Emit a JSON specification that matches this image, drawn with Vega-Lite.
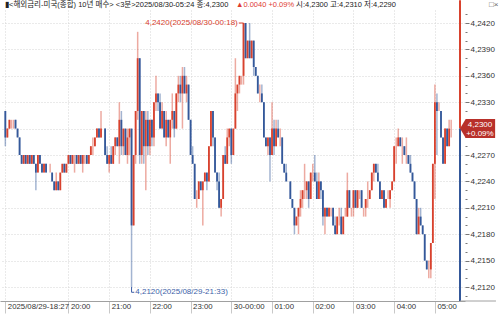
{
  "$schema": "https://vega.github.io/schema/vega-lite/v6.json",
  "width": 465,
  "height": 291,
  "autosize": {"type": "none"},
  "padding": {"left": 0, "top": 10, "right": 35, "bottom": 13},
  "background": "white",
  "config": {
    "view": {"stroke": null},
    "font": "Liberation Sans, Noto Sans CJK KR",
    "text": {"font": "Liberation Sans, Noto Sans CJK KR", "fontSize": 8}
  },
  "datasets": {
    "bars": [
      {"t":"2025-08-29T18:27","o":4.232,"h":4.232,"l":4.228,"c":4.229},
      {"t":"2025-08-29T18:30","o":4.229,"h":4.230,"l":4.229,"c":4.230},
      {"t":"2025-08-29T18:33","o":4.230,"h":4.231,"l":4.230,"c":4.231},
      {"t":"2025-08-29T18:36","o":4.231,"h":4.231,"l":4.230,"c":4.231},
      {"t":"2025-08-29T18:39","o":4.231,"h":4.231,"l":4.230,"c":4.231},
      {"t":"2025-08-29T18:42","o":4.231,"h":4.231,"l":4.230,"c":4.230},
      {"t":"2025-08-29T18:45","o":4.230,"h":4.230,"l":4.229,"c":4.229},
      {"t":"2025-08-29T18:48","o":4.229,"h":4.229,"l":4.227,"c":4.227},
      {"t":"2025-08-29T18:51","o":4.227,"h":4.227,"l":4.226,"c":4.226},
      {"t":"2025-08-29T18:54","o":4.226,"h":4.227,"l":4.226,"c":4.227},
      {"t":"2025-08-29T18:57","o":4.227,"h":4.227,"l":4.226,"c":4.226},
      {"t":"2025-08-29T19:00","o":4.226,"h":4.227,"l":4.226,"c":4.227},
      {"t":"2025-08-29T19:03","o":4.227,"h":4.227,"l":4.226,"c":4.226},
      {"t":"2025-08-29T19:06","o":4.226,"h":4.227,"l":4.226,"c":4.227},
      {"t":"2025-08-29T19:09","o":4.227,"h":4.227,"l":4.226,"c":4.226},
      {"t":"2025-08-29T19:12","o":4.226,"h":4.226,"l":4.223,"c":4.225},
      {"t":"2025-08-29T19:15","o":4.225,"h":4.227,"l":4.225,"c":4.227},
      {"t":"2025-08-29T19:18","o":4.227,"h":4.227,"l":4.226,"c":4.226},
      {"t":"2025-08-29T19:21","o":4.226,"h":4.226,"l":4.225,"c":4.225},
      {"t":"2025-08-29T19:24","o":4.225,"h":4.226,"l":4.225,"c":4.226},
      {"t":"2025-08-29T19:27","o":4.226,"h":4.226,"l":4.225,"c":4.225},
      {"t":"2025-08-29T19:30","o":4.225,"h":4.225,"l":4.225,"c":4.225},
      {"t":"2025-08-29T19:33","o":4.225,"h":4.226,"l":4.225,"c":4.225},
      {"t":"2025-08-29T19:36","o":4.225,"h":4.225,"l":4.224,"c":4.224},
      {"t":"2025-08-29T19:39","o":4.224,"h":4.224,"l":4.223,"c":4.223},
      {"t":"2025-08-29T19:42","o":4.223,"h":4.225,"l":4.223,"c":4.224},
      {"t":"2025-08-29T19:45","o":4.224,"h":4.224,"l":4.223,"c":4.223},
      {"t":"2025-08-29T19:48","o":4.223,"h":4.225,"l":4.223,"c":4.225},
      {"t":"2025-08-29T19:51","o":4.225,"h":4.226,"l":4.225,"c":4.226},
      {"t":"2025-08-29T19:54","o":4.226,"h":4.226,"l":4.225,"c":4.225},
      {"t":"2025-08-29T19:57","o":4.225,"h":4.226,"l":4.225,"c":4.226},
      {"t":"2025-08-29T20:00","o":4.226,"h":4.227,"l":4.226,"c":4.227},
      {"t":"2025-08-29T20:03","o":4.227,"h":4.227,"l":4.226,"c":4.226},
      {"t":"2025-08-29T20:06","o":4.226,"h":4.227,"l":4.226,"c":4.227},
      {"t":"2025-08-29T20:09","o":4.227,"h":4.227,"l":4.225,"c":4.227},
      {"t":"2025-08-29T20:12","o":4.227,"h":4.227,"l":4.226,"c":4.226},
      {"t":"2025-08-29T20:15","o":4.226,"h":4.227,"l":4.226,"c":4.227},
      {"t":"2025-08-29T20:18","o":4.227,"h":4.227,"l":4.226,"c":4.226},
      {"t":"2025-08-29T20:21","o":4.226,"h":4.227,"l":4.225,"c":4.227},
      {"t":"2025-08-29T20:24","o":4.227,"h":4.227,"l":4.226,"c":4.227},
      {"t":"2025-08-29T20:27","o":4.227,"h":4.227,"l":4.226,"c":4.226},
      {"t":"2025-08-29T20:30","o":4.226,"h":4.227,"l":4.226,"c":4.227},
      {"t":"2025-08-29T20:33","o":4.227,"h":4.228,"l":4.227,"c":4.228},
      {"t":"2025-08-29T20:36","o":4.228,"h":4.229,"l":4.227,"c":4.228},
      {"t":"2025-08-29T20:39","o":4.228,"h":4.229,"l":4.228,"c":4.229},
      {"t":"2025-08-29T20:42","o":4.229,"h":4.230,"l":4.229,"c":4.230},
      {"t":"2025-08-29T20:45","o":4.230,"h":4.230,"l":4.229,"c":4.229},
      {"t":"2025-08-29T20:48","o":4.229,"h":4.232,"l":4.229,"c":4.230},
      {"t":"2025-08-29T20:51","o":4.230,"h":4.230,"l":4.230,"c":4.230},
      {"t":"2025-08-29T20:54","o":4.230,"h":4.230,"l":4.227,"c":4.227},
      {"t":"2025-08-29T20:57","o":4.227,"h":4.228,"l":4.226,"c":4.226},
      {"t":"2025-08-29T21:00","o":4.226,"h":4.227,"l":4.225,"c":4.227},
      {"t":"2025-08-29T21:03","o":4.227,"h":4.228,"l":4.226,"c":4.226},
      {"t":"2025-08-29T21:06","o":4.226,"h":4.228,"l":4.226,"c":4.228},
      {"t":"2025-08-29T21:09","o":4.228,"h":4.229,"l":4.227,"c":4.229},
      {"t":"2025-08-29T21:12","o":4.229,"h":4.229,"l":4.228,"c":4.228},
      {"t":"2025-08-29T21:15","o":4.228,"h":4.233,"l":4.226,"c":4.231},
      {"t":"2025-08-29T21:18","o":4.231,"h":4.232,"l":4.227,"c":4.228},
      {"t":"2025-08-29T21:21","o":4.228,"h":4.230,"l":4.227,"c":4.230},
      {"t":"2025-08-29T21:24","o":4.230,"h":4.230,"l":4.227,"c":4.227},
      {"t":"2025-08-29T21:27","o":4.227,"h":4.230,"l":4.226,"c":4.229},
      {"t":"2025-08-29T21:30","o":4.229,"h":4.230,"l":4.227,"c":4.230},
      {"t":"2025-08-29T21:33","o":4.230,"h":4.230,"l":4.212,"c":4.219},
      {"t":"2025-08-29T21:36","o":4.219,"h":4.227,"l":4.219,"c":4.227},
      {"t":"2025-08-29T21:39","o":4.227,"h":4.232,"l":4.226,"c":4.232},
      {"t":"2025-08-29T21:42","o":4.232,"h":4.241,"l":4.231,"c":4.238},
      {"t":"2025-08-29T21:45","o":4.238,"h":4.238,"l":4.226,"c":4.227},
      {"t":"2025-08-29T21:48","o":4.227,"h":4.232,"l":4.226,"c":4.232},
      {"t":"2025-08-29T21:51","o":4.232,"h":4.232,"l":4.226,"c":4.228},
      {"t":"2025-08-29T21:54","o":4.228,"h":4.232,"l":4.223,"c":4.231},
      {"t":"2025-08-29T21:57","o":4.231,"h":4.232,"l":4.227,"c":4.228},
      {"t":"2025-08-29T22:00","o":4.228,"h":4.231,"l":4.227,"c":4.231},
      {"t":"2025-08-29T22:03","o":4.231,"h":4.231,"l":4.228,"c":4.229},
      {"t":"2025-08-29T22:06","o":4.229,"h":4.233,"l":4.228,"c":4.233},
      {"t":"2025-08-29T22:09","o":4.233,"h":4.236,"l":4.232,"c":4.234},
      {"t":"2025-08-29T22:12","o":4.234,"h":4.234,"l":4.232,"c":4.233},
      {"t":"2025-08-29T22:15","o":4.233,"h":4.234,"l":4.230,"c":4.230},
      {"t":"2025-08-29T22:18","o":4.230,"h":4.233,"l":4.230,"c":4.232},
      {"t":"2025-08-29T22:21","o":4.232,"h":4.232,"l":4.229,"c":4.229},
      {"t":"2025-08-29T22:24","o":4.229,"h":4.232,"l":4.228,"c":4.231},
      {"t":"2025-08-29T22:27","o":4.231,"h":4.231,"l":4.229,"c":4.229},
      {"t":"2025-08-29T22:30","o":4.229,"h":4.231,"l":4.226,"c":4.231},
      {"t":"2025-08-29T22:33","o":4.231,"h":4.234,"l":4.230,"c":4.232},
      {"t":"2025-08-29T22:36","o":4.232,"h":4.232,"l":4.229,"c":4.230},
      {"t":"2025-08-29T22:39","o":4.230,"h":4.234,"l":4.230,"c":4.234},
      {"t":"2025-08-29T22:42","o":4.234,"h":4.236,"l":4.233,"c":4.235},
      {"t":"2025-08-29T22:45","o":4.235,"h":4.236,"l":4.233,"c":4.234},
      {"t":"2025-08-29T22:48","o":4.234,"h":4.237,"l":4.230,"c":4.236},
      {"t":"2025-08-29T22:51","o":4.236,"h":4.237,"l":4.234,"c":4.234},
      {"t":"2025-08-29T22:54","o":4.234,"h":4.236,"l":4.233,"c":4.235},
      {"t":"2025-08-29T22:57","o":4.235,"h":4.235,"l":4.231,"c":4.231},
      {"t":"2025-08-29T23:00","o":4.231,"h":4.231,"l":4.227,"c":4.227},
      {"t":"2025-08-29T23:03","o":4.227,"h":4.228,"l":4.226,"c":4.226},
      {"t":"2025-08-29T23:06","o":4.226,"h":4.226,"l":4.222,"c":4.222},
      {"t":"2025-08-29T23:09","o":4.222,"h":4.223,"l":4.221,"c":4.222},
      {"t":"2025-08-29T23:12","o":4.222,"h":4.224,"l":4.222,"c":4.224},
      {"t":"2025-08-29T23:15","o":4.224,"h":4.224,"l":4.223,"c":4.223},
      {"t":"2025-08-29T23:18","o":4.223,"h":4.224,"l":4.219,"c":4.224},
      {"t":"2025-08-29T23:21","o":4.224,"h":4.225,"l":4.224,"c":4.225},
      {"t":"2025-08-29T23:24","o":4.225,"h":4.225,"l":4.223,"c":4.224},
      {"t":"2025-08-29T23:27","o":4.224,"h":4.228,"l":4.224,"c":4.228},
      {"t":"2025-08-29T23:30","o":4.228,"h":4.232,"l":4.228,"c":4.232},
      {"t":"2025-08-29T23:33","o":4.232,"h":4.232,"l":4.228,"c":4.229},
      {"t":"2025-08-29T23:36","o":4.229,"h":4.229,"l":4.225,"c":4.225},
      {"t":"2025-08-29T23:39","o":4.225,"h":4.225,"l":4.223,"c":4.224},
      {"t":"2025-08-29T23:42","o":4.224,"h":4.225,"l":4.221,"c":4.221},
      {"t":"2025-08-29T23:45","o":4.221,"h":4.222,"l":4.220,"c":4.222},
      {"t":"2025-08-29T23:48","o":4.222,"h":4.227,"l":4.222,"c":4.227},
      {"t":"2025-08-29T23:51","o":4.227,"h":4.228,"l":4.226,"c":4.226},
      {"t":"2025-08-29T23:54","o":4.226,"h":4.230,"l":4.226,"c":4.229},
      {"t":"2025-08-29T23:57","o":4.229,"h":4.230,"l":4.228,"c":4.230},
      {"t":"2025-08-30T00:00","o":4.230,"h":4.230,"l":4.226,"c":4.227},
      {"t":"2025-08-30T00:03","o":4.227,"h":4.230,"l":4.227,"c":4.230},
      {"t":"2025-08-30T00:06","o":4.230,"h":4.238,"l":4.230,"c":4.234},
      {"t":"2025-08-30T00:09","o":4.234,"h":4.235,"l":4.232,"c":4.235},
      {"t":"2025-08-30T00:12","o":4.235,"h":4.236,"l":4.234,"c":4.236},
      {"t":"2025-08-30T00:15","o":4.236,"h":4.236,"l":4.235,"c":4.236},
      {"t":"2025-08-30T00:18","o":4.236,"h":4.242,"l":4.235,"c":4.242},
      {"t":"2025-08-30T00:21","o":4.242,"h":4.242,"l":4.238,"c":4.238},
      {"t":"2025-08-30T00:24","o":4.238,"h":4.240,"l":4.238,"c":4.240},
      {"t":"2025-08-30T00:27","o":4.240,"h":4.242,"l":4.238,"c":4.238},
      {"t":"2025-08-30T00:30","o":4.238,"h":4.240,"l":4.238,"c":4.240},
      {"t":"2025-08-30T00:33","o":4.240,"h":4.240,"l":4.236,"c":4.237},
      {"t":"2025-08-30T00:36","o":4.237,"h":4.237,"l":4.236,"c":4.236},
      {"t":"2025-08-30T00:39","o":4.236,"h":4.236,"l":4.234,"c":4.234},
      {"t":"2025-08-30T00:42","o":4.234,"h":4.235,"l":4.233,"c":4.234},
      {"t":"2025-08-30T00:45","o":4.234,"h":4.235,"l":4.233,"c":4.233},
      {"t":"2025-08-30T00:48","o":4.233,"h":4.233,"l":4.229,"c":4.229},
      {"t":"2025-08-30T00:51","o":4.229,"h":4.229,"l":4.228,"c":4.228},
      {"t":"2025-08-30T00:54","o":4.228,"h":4.229,"l":4.227,"c":4.229},
      {"t":"2025-08-30T00:57","o":4.229,"h":4.229,"l":4.224,"c":4.227},
      {"t":"2025-08-30T01:00","o":4.227,"h":4.233,"l":4.227,"c":4.230},
      {"t":"2025-08-30T01:03","o":4.230,"h":4.231,"l":4.227,"c":4.228},
      {"t":"2025-08-30T01:06","o":4.228,"h":4.231,"l":4.228,"c":4.230},
      {"t":"2025-08-30T01:09","o":4.230,"h":4.231,"l":4.229,"c":4.229},
      {"t":"2025-08-30T01:12","o":4.229,"h":4.230,"l":4.228,"c":4.229},
      {"t":"2025-08-30T01:15","o":4.229,"h":4.229,"l":4.226,"c":4.226},
      {"t":"2025-08-30T01:18","o":4.226,"h":4.226,"l":4.225,"c":4.225},
      {"t":"2025-08-30T01:21","o":4.225,"h":4.226,"l":4.224,"c":4.224},
      {"t":"2025-08-30T01:24","o":4.224,"h":4.224,"l":4.224,"c":4.224},
      {"t":"2025-08-30T01:27","o":4.224,"h":4.224,"l":4.222,"c":4.222},
      {"t":"2025-08-30T01:30","o":4.222,"h":4.222,"l":4.221,"c":4.221},
      {"t":"2025-08-30T01:33","o":4.221,"h":4.221,"l":4.218,"c":4.219},
      {"t":"2025-08-30T01:36","o":4.219,"h":4.220,"l":4.219,"c":4.220},
      {"t":"2025-08-30T01:39","o":4.220,"h":4.221,"l":4.218,"c":4.221},
      {"t":"2025-08-30T01:42","o":4.221,"h":4.223,"l":4.220,"c":4.222},
      {"t":"2025-08-30T01:45","o":4.222,"h":4.223,"l":4.221,"c":4.223},
      {"t":"2025-08-30T01:48","o":4.223,"h":4.226,"l":4.222,"c":4.223},
      {"t":"2025-08-30T01:51","o":4.223,"h":4.224,"l":4.222,"c":4.224},
      {"t":"2025-08-30T01:54","o":4.224,"h":4.224,"l":4.221,"c":4.222},
      {"t":"2025-08-30T01:57","o":4.222,"h":4.225,"l":4.222,"c":4.225},
      {"t":"2025-08-30T02:00","o":4.225,"h":4.226,"l":4.224,"c":4.225},
      {"t":"2025-08-30T02:03","o":4.225,"h":4.227,"l":4.224,"c":4.224},
      {"t":"2025-08-30T02:06","o":4.224,"h":4.225,"l":4.222,"c":4.222},
      {"t":"2025-08-30T02:09","o":4.222,"h":4.225,"l":4.222,"c":4.224},
      {"t":"2025-08-30T02:12","o":4.224,"h":4.224,"l":4.222,"c":4.223},
      {"t":"2025-08-30T02:15","o":4.223,"h":4.223,"l":4.219,"c":4.220},
      {"t":"2025-08-30T02:18","o":4.220,"h":4.221,"l":4.218,"c":4.221},
      {"t":"2025-08-30T02:21","o":4.221,"h":4.221,"l":4.220,"c":4.220},
      {"t":"2025-08-30T02:24","o":4.220,"h":4.221,"l":4.220,"c":4.221},
      {"t":"2025-08-30T02:27","o":4.221,"h":4.221,"l":4.220,"c":4.221},
      {"t":"2025-08-30T02:30","o":4.221,"h":4.221,"l":4.219,"c":4.219},
      {"t":"2025-08-30T02:33","o":4.219,"h":4.220,"l":4.218,"c":4.218},
      {"t":"2025-08-30T02:36","o":4.218,"h":4.220,"l":4.218,"c":4.220},
      {"t":"2025-08-30T02:39","o":4.220,"h":4.221,"l":4.219,"c":4.220},
      {"t":"2025-08-30T02:42","o":4.220,"h":4.221,"l":4.218,"c":4.218},
      {"t":"2025-08-30T02:45","o":4.218,"h":4.220,"l":4.218,"c":4.220},
      {"t":"2025-08-30T02:48","o":4.220,"h":4.221,"l":4.220,"c":4.220},
      {"t":"2025-08-30T02:51","o":4.220,"h":4.225,"l":4.220,"c":4.223},
      {"t":"2025-08-30T02:54","o":4.223,"h":4.223,"l":4.221,"c":4.221},
      {"t":"2025-08-30T02:57","o":4.221,"h":4.221,"l":4.220,"c":4.221},
      {"t":"2025-08-30T03:00","o":4.221,"h":4.223,"l":4.220,"c":4.223},
      {"t":"2025-08-30T03:03","o":4.223,"h":4.223,"l":4.221,"c":4.221},
      {"t":"2025-08-30T03:06","o":4.221,"h":4.223,"l":4.221,"c":4.223},
      {"t":"2025-08-30T03:09","o":4.223,"h":4.223,"l":4.222,"c":4.223},
      {"t":"2025-08-30T03:12","o":4.223,"h":4.223,"l":4.221,"c":4.221},
      {"t":"2025-08-30T03:15","o":4.221,"h":4.221,"l":4.220,"c":4.221},
      {"t":"2025-08-30T03:18","o":4.221,"h":4.222,"l":4.220,"c":4.222},
      {"t":"2025-08-30T03:21","o":4.222,"h":4.224,"l":4.221,"c":4.222},
      {"t":"2025-08-30T03:24","o":4.222,"h":4.223,"l":4.222,"c":4.223},
      {"t":"2025-08-30T03:27","o":4.223,"h":4.225,"l":4.223,"c":4.225},
      {"t":"2025-08-30T03:30","o":4.225,"h":4.226,"l":4.224,"c":4.226},
      {"t":"2025-08-30T03:33","o":4.226,"h":4.226,"l":4.225,"c":4.225},
      {"t":"2025-08-30T03:36","o":4.225,"h":4.226,"l":4.224,"c":4.224},
      {"t":"2025-08-30T03:39","o":4.224,"h":4.224,"l":4.222,"c":4.222},
      {"t":"2025-08-30T03:42","o":4.222,"h":4.223,"l":4.222,"c":4.223},
      {"t":"2025-08-30T03:45","o":4.223,"h":4.223,"l":4.221,"c":4.221},
      {"t":"2025-08-30T03:48","o":4.221,"h":4.222,"l":4.221,"c":4.222},
      {"t":"2025-08-30T03:51","o":4.222,"h":4.223,"l":4.222,"c":4.222},
      {"t":"2025-08-30T03:54","o":4.222,"h":4.223,"l":4.221,"c":4.223},
      {"t":"2025-08-30T03:57","o":4.223,"h":4.224,"l":4.223,"c":4.224},
      {"t":"2025-08-30T04:00","o":4.224,"h":4.228,"l":4.224,"c":4.228},
      {"t":"2025-08-30T04:03","o":4.228,"h":4.229,"l":4.226,"c":4.228},
      {"t":"2025-08-30T04:06","o":4.228,"h":4.230,"l":4.228,"c":4.229},
      {"t":"2025-08-30T04:09","o":4.229,"h":4.229,"l":4.228,"c":4.228},
      {"t":"2025-08-30T04:12","o":4.228,"h":4.229,"l":4.226,"c":4.228},
      {"t":"2025-08-30T04:15","o":4.228,"h":4.228,"l":4.227,"c":4.227},
      {"t":"2025-08-30T04:18","o":4.227,"h":4.229,"l":4.226,"c":4.227},
      {"t":"2025-08-30T04:21","o":4.227,"h":4.227,"l":4.226,"c":4.226},
      {"t":"2025-08-30T04:24","o":4.226,"h":4.227,"l":4.225,"c":4.225},
      {"t":"2025-08-30T04:27","o":4.225,"h":4.225,"l":4.224,"c":4.224},
      {"t":"2025-08-30T04:30","o":4.224,"h":4.224,"l":4.222,"c":4.222},
      {"t":"2025-08-30T04:33","o":4.222,"h":4.222,"l":4.218,"c":4.218},
      {"t":"2025-08-30T04:36","o":4.218,"h":4.221,"l":4.218,"c":4.220},
      {"t":"2025-08-30T04:39","o":4.220,"h":4.221,"l":4.219,"c":4.219},
      {"t":"2025-08-30T04:42","o":4.219,"h":4.219,"l":4.218,"c":4.218},
      {"t":"2025-08-30T04:45","o":4.218,"h":4.218,"l":4.215,"c":4.215},
      {"t":"2025-08-30T04:48","o":4.215,"h":4.215,"l":4.214,"c":4.214},
      {"t":"2025-08-30T04:51","o":4.214,"h":4.215,"l":4.213,"c":4.214},
      {"t":"2025-08-30T04:54","o":4.214,"h":4.217,"l":4.213,"c":4.217},
      {"t":"2025-08-30T04:57","o":4.217,"h":4.226,"l":4.217,"c":4.226},
      {"t":"2025-08-30T05:00","o":4.226,"h":4.235,"l":4.222,"c":4.233},
      {"t":"2025-08-30T05:03","o":4.233,"h":4.234,"l":4.227,"c":4.232},
      {"t":"2025-08-30T05:06","o":4.232,"h":4.233,"l":4.232,"c":4.232},
      {"t":"2025-08-30T05:09","o":4.232,"h":4.232,"l":4.229,"c":4.229},
      {"t":"2025-08-30T05:12","o":4.229,"h":4.229,"l":4.226,"c":4.226},
      {"t":"2025-08-30T05:15","o":4.226,"h":4.230,"l":4.226,"c":4.230},
      {"t":"2025-08-30T05:18","o":4.230,"h":4.230,"l":4.228,"c":4.228},
      {"t":"2025-08-30T05:21","o":4.228,"h":4.231,"l":4.228,"c":4.230},
      {"t":"2025-08-30T05:24","o":4.230,"h":4.231,"l":4.229,"c":4.230}
    ]
  },
  "layer": [
    {
      "data": {"name": "bars"},
      "mark": {"type": "rule", "strokeWidth": 1.5, "opacity": 0.45},
      "encoding": {
        "x": {
          "field": "t",
          "type": "temporal",
          "scale": {"domain": [
            {"year": 2025, "month": 8, "date": 29, "hours": 18, "minutes": 26, "seconds": 30},
            {"year": 2025, "month": 8, "date": 30, "hours": 5, "minutes": 37}
          ]},
          "axis": {
            "title": null,
            "values": [
              {"year": 2025, "month": 8, "date": 29, "hours": 18, "minutes": 27},
              {"year": 2025, "month": 8, "date": 29, "hours": 20},
              {"year": 2025, "month": 8, "date": 29, "hours": 21},
              {"year": 2025, "month": 8, "date": 29, "hours": 22},
              {"year": 2025, "month": 8, "date": 29, "hours": 23},
              {"year": 2025, "month": 8, "date": 30, "hours": 0},
              {"year": 2025, "month": 8, "date": 30, "hours": 1},
              {"year": 2025, "month": 8, "date": 30, "hours": 2},
              {"year": 2025, "month": 8, "date": 30, "hours": 3},
              {"year": 2025, "month": 8, "date": 30, "hours": 4},
              {"year": 2025, "month": 8, "date": 30, "hours": 5}
            ],
            "tickCount": 100,
            "labelExpr": "hours(datum.value) == 18 ? '2025/08/29-18:27' : (hours(datum.value) == 0 ? '30-00:00' : timeFormat(datum.value, '%H:%M'))",
            "grid": true,
            "gridColor": "#d4d4d4",
            "gridDash": [1, 2],
            "domainColor": "#a0a0a0",
            "tickColor": "#c8c8c8",
            "tickSize": 12,
            "labelAlign": "left",
            "labelBaseline": "middle",
            "labelPadding": -7,
            "labelOffset": 2,
            "labelFont": "Liberation Sans",
            "labelFontSize": 7.8,
            "labelColor": "#333333",
            "labelOverlap": false,
            "labelBound": false,
            "labelFlush": false
          }
        },
        "y": {
          "field": "l",
          "type": "quantitative",
          "scale": {"domain": [4.21041, 4.24348], "nice": false, "zero": false},
          "axis": {
            "title": null,
            "orient": "right",
            "values": [4.211, 4.212, 4.213, 4.214, 4.215, 4.216, 4.217, 4.218, 4.219, 4.220, 4.221, 4.222, 4.223, 4.224, 4.225, 4.226, 4.227, 4.228, 4.229, 4.230, 4.231, 4.232, 4.233, 4.234, 4.235, 4.236, 4.237, 4.238, 4.239, 4.240, 4.241, 4.242, 4.243],
            "tickCount": 100,
            "labelExpr": "(round((datum.value - 4.212) * 1000) % 3 == 0 && round(datum.value * 1000) != 4230) ? replace(format(datum.value, '.4f'), '.', ',') : ''",
            "domain": false,
            "grid": true,
            "gridColor": "#d4d4d4",
            "gridDash": [1, 2],
            "gridOpacity": {"condition": {"test": "round((datum.value - 4.212) * 1000) % 3 == 0", "value": 1}, "value": 0},
            "tickSize": {"condition": {"test": "round((datum.value - 4.212) * 1000) % 3 == 0", "value": 4}, "value": 2},
            "tickColor": "#777777",
            "labelPadding": 1,
            "labelFont": "Liberation Sans",
            "labelFontSize": 8,
            "labelColor": "#333333",
            "labelOverlap": false,
            "labelBound": false,
            "labelFlush": false
          }
        },
        "y2": {"field": "h"},
        "color": {"condition": {"test": "datum.c >= datum.o", "value": "#d8422e"}, "value": "#34589a"}
      }
    },
    {
      "data": {"name": "bars"},
      "mark": {"type": "bar", "size": 1.8},
      "encoding": {
        "x": {"field": "t", "type": "temporal"},
        "y": {"field": "o", "type": "quantitative"},
        "y2": {"field": "c"},
        "color": {"condition": {"test": "datum.c >= datum.o", "value": "#d8422e"}, "value": "#34589a"}
      }
    },
    {
      "data": {"values": [{"t": "2025-08-30T05:37", "a": 4.2300, "b": 4.2446}]},
      "mark": {"type": "rule", "color": "#d8422e", "strokeWidth": 2},
      "encoding": {
        "x": {"field": "t", "type": "temporal"},
        "y": {"field": "a", "type": "quantitative"},
        "y2": {"field": "b"}
      }
    },
    {
      "data": {"values": [{"t": "2025-08-30T05:37", "a": 4.21041, "b": 4.2300}]},
      "mark": {"type": "rule", "color": "#34589a", "strokeWidth": 2},
      "encoding": {
        "x": {"field": "t", "type": "temporal"},
        "y": {"field": "a", "type": "quantitative"},
        "y2": {"field": "b"}
      }
    },
    {
      "data": {"values": [{"t": "2025-08-30T05:37", "t2": "2025-08-30T06:30", "a": 4.21041}]},
      "mark": {"type": "rule", "color": "#a0a0a0", "strokeWidth": 1},
      "encoding": {
        "x": {"field": "t", "type": "temporal"},
        "x2": {"field": "t2"},
        "y": {"field": "a", "type": "quantitative"}
      }
    },
    {
      "data": {"values": [{"t": "2025-08-30T05:37", "a": 4.2300}]},
      "mark": {"type": "point", "shape": "M0,0L0.3,-0.5L1.85,-0.5L1.85,0.5L0.3,0.5Z", "size": 1444, "filled": true, "color": "#b8302a", "opacity": 1, "strokeWidth": 0},
      "encoding": {
        "x": {"field": "t", "type": "temporal"},
        "y": {"field": "a", "type": "quantitative"}
      }
    },
    {
      "data": {"values": [{"t": "2025-08-30T05:37", "a": 4.2300, "txt": "4,2300"}]},
      "mark": {"type": "text", "color": "white", "fontSize": 8, "align": "center", "baseline": "middle", "dx": 20, "dy": -4},
      "encoding": {
        "x": {"field": "t", "type": "temporal"},
        "y": {"field": "a", "type": "quantitative"},
        "text": {"field": "txt"}
      }
    },
    {
      "data": {"values": [{"t": "2025-08-30T05:37", "a": 4.2300, "txt": "+0.09%"}]},
      "mark": {"type": "text", "color": "white", "fontSize": 8, "align": "center", "baseline": "middle", "dx": 20, "dy": 5},
      "encoding": {
        "x": {"field": "t", "type": "temporal"},
        "y": {"field": "a", "type": "quantitative"},
        "text": {"field": "txt"}
      }
    },
    {
      "data": {"values": [{"t": "2025-08-30T00:11", "t2": "2025-08-30T00:18", "a": 4.2420}]},
      "mark": {"type": "rule", "color": "#d8422e", "strokeWidth": 1},
      "encoding": {
        "x": {"field": "t", "type": "temporal"},
        "x2": {"field": "t2"},
        "y": {"field": "a", "type": "quantitative"}
      }
    },
    {
      "data": {"values": [{"t": "2025-08-30T00:11", "a": 4.2420, "txt": "4,2420(2025/08/30-00:18)"}]},
      "mark": {"type": "text", "color": "#d8422e", "fontSize": 8, "align": "right", "baseline": "middle", "dx": -1},
      "encoding": {
        "x": {"field": "t", "type": "temporal"},
        "y": {"field": "a", "type": "quantitative"},
        "text": {"field": "txt"}
      }
    },
    {
      "data": {"values": [{"t": "2025-08-29T21:33", "a": 4.2120, "b": 4.2114}]},
      "mark": {"type": "rule", "color": "#3d5fa8", "strokeWidth": 1},
      "encoding": {
        "x": {"field": "t", "type": "temporal"},
        "y": {"field": "a", "type": "quantitative"},
        "y2": {"field": "b"}
      }
    },
    {
      "data": {"values": [{"t": "2025-08-29T21:33", "t2": "2025-08-29T21:37", "a": 4.2114}]},
      "mark": {"type": "rule", "color": "#3d5fa8", "strokeWidth": 1},
      "encoding": {
        "x": {"field": "t", "type": "temporal"},
        "x2": {"field": "t2"},
        "y": {"field": "a", "type": "quantitative"}
      }
    },
    {
      "data": {"values": [{"t": "2025-08-29T21:37", "a": 4.2114, "txt": "4,2120(2025/08/29-21:33)"}]},
      "mark": {"type": "text", "color": "#3d5fa8", "fontSize": 8, "align": "left", "baseline": "middle", "dx": 1},
      "encoding": {
        "x": {"field": "t", "type": "temporal"},
        "y": {"field": "a", "type": "quantitative"},
        "text": {"field": "txt"}
      }
    },
    {
      "data": {"values": [{"t": "2025-08-29T18:26:30", "a": 4.24348, "txt": "▮<해외금리-미국(종합) 10년 매수> <3분>2025/08/30-05:24 종:4,2300"}]},
      "mark": {"type": "text", "color": "#222222", "fontSize": 7.5, "align": "left", "baseline": "middle", "dx": 0, "dy": -5},
      "encoding": {
        "x": {"field": "t", "type": "temporal"},
        "y": {"field": "a", "type": "quantitative"},
        "text": {"field": "txt"}
      }
    },
    {
      "data": {"values": [{"t": "2025-08-29T18:26:30", "a": 4.24348, "txt": "▲0.0040 +0.09%"}]},
      "mark": {"type": "text", "color": "#e03c31", "fontSize": 7.5, "align": "left", "baseline": "middle", "dx": 231, "dy": -5},
      "encoding": {
        "x": {"field": "t", "type": "temporal"},
        "y": {"field": "a", "type": "quantitative"},
        "text": {"field": "txt"}
      }
    },
    {
      "data": {"values": [{"t": "2025-08-29T18:26:30", "a": 4.24348, "txt": "시:4,2300 고:4,2310 저:4,2290"}]},
      "mark": {"type": "text", "color": "#222222", "fontSize": 7.5, "align": "left", "baseline": "middle", "dx": 291, "dy": -5},
      "encoding": {
        "x": {"field": "t", "type": "temporal"},
        "y": {"field": "a", "type": "quantitative"},
        "text": {"field": "txt"}
      }
    },
    {
      "data": {"values": [{"t": "2025-08-29T18:26:30", "a": 4.24348, "txt": "□×"}]},
      "mark": {"type": "text", "color": "#666666", "fontSize": 8, "align": "left", "baseline": "middle", "dx": 484, "dy": -5},
      "encoding": {
        "x": {"field": "t", "type": "temporal"},
        "y": {"field": "a", "type": "quantitative"},
        "text": {"field": "txt"}
      }
    }
  ]
}
